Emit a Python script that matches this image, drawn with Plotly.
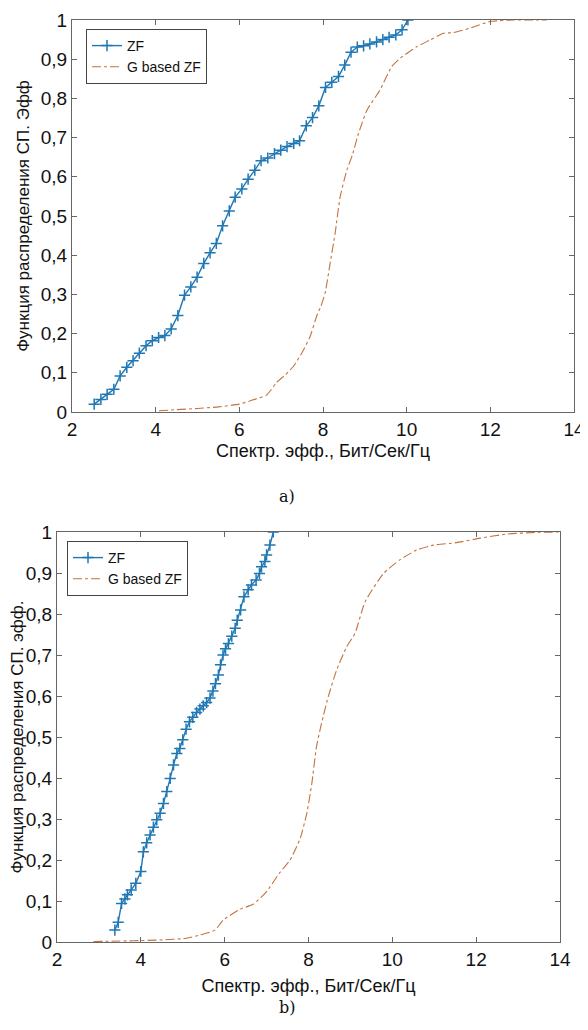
import plotly.graph_objects as go

# ---- panel a) ----
zf_a_x = [2.53, 2.69, 2.84, 3.00, 3.15, 3.31, 3.46, 3.61, 3.77, 3.92, 4.07, 4.22, 4.37, 4.53,
          4.69, 4.84, 4.99, 5.15, 5.30, 5.45, 5.60, 5.76, 5.90, 6.06, 6.21, 6.37, 6.52, 6.68,
          6.84, 6.99, 7.14, 7.30, 7.44, 7.60, 7.75, 7.90, 8.06, 8.21, 8.37, 8.52, 8.67, 8.82,
          8.97, 9.12, 9.28, 9.43, 9.58, 9.74, 9.89, 10.03]
zf_a_y = [0.020, 0.032, 0.045, 0.058, 0.092, 0.114, 0.131, 0.150, 0.169, 0.182, 0.190, 0.195,
          0.212, 0.246, 0.298, 0.319, 0.344, 0.379, 0.406, 0.430, 0.475, 0.513, 0.548, 0.569,
          0.594, 0.617, 0.641, 0.648, 0.659, 0.668, 0.677, 0.685, 0.692, 0.730, 0.751, 0.781,
          0.828, 0.841, 0.856, 0.885, 0.918, 0.931, 0.934, 0.939, 0.944, 0.950, 0.956, 0.962,
          0.975, 1.000]
g_a_x = [4.08, 4.5, 5.0, 5.5, 6.0, 6.33, 6.65, 6.89, 7.1, 7.29, 7.5, 7.69, 7.85, 7.95, 8.05,
         8.17, 8.29, 8.41, 8.57, 8.7, 8.85, 9.05, 9.36, 9.64, 9.84, 10.24, 10.56, 10.88, 11.12,
         11.51, 11.99, 12.55, 13.35]
g_a_y = [0.003, 0.006, 0.009, 0.013, 0.020, 0.031, 0.043, 0.075, 0.095, 0.116, 0.152, 0.192,
         0.245, 0.270, 0.303, 0.379, 0.456, 0.549, 0.617, 0.655, 0.711, 0.770, 0.821, 0.881,
         0.902, 0.932, 0.949, 0.966, 0.968, 0.979, 0.996, 1.0, 1.0]

# ---- panel b) ----
zf_b_x = [3.38, 3.46, 3.54, 3.62, 3.68, 3.77, 3.88, 4.00, 4.06, 4.14, 4.22, 4.30, 4.38, 4.46,
          4.54, 4.62, 4.70, 4.78, 4.86, 4.93, 5.00, 5.08, 5.16, 5.24, 5.33, 5.41, 5.49, 5.57,
          5.65, 5.72, 5.78, 5.85, 5.90, 5.96, 6.02, 6.09, 6.17, 6.25, 6.30, 6.38, 6.46, 6.56,
          6.64, 6.75, 6.83, 6.88, 6.96, 7.00, 7.08, 7.16]
zf_b_y = [0.029, 0.048, 0.094, 0.105, 0.115, 0.127, 0.143, 0.172, 0.220, 0.242, 0.261, 0.280,
          0.298, 0.314, 0.338, 0.367, 0.399, 0.432, 0.460, 0.472, 0.493, 0.519, 0.537, 0.548,
          0.560, 0.568, 0.576, 0.584, 0.595, 0.612, 0.630, 0.651, 0.676, 0.700, 0.715, 0.728,
          0.746, 0.765, 0.785, 0.810, 0.842, 0.859, 0.871, 0.883, 0.899, 0.915, 0.928, 0.944,
          0.968, 1.000]
g_b_x = [2.87, 3.3, 3.82, 4.46, 5.09, 5.41, 5.77, 5.97, 6.37, 6.68, 7.0, 7.32, 7.56, 7.80,
         7.96, 8.08, 8.19, 8.31, 8.47, 8.67, 8.91, 9.11, 9.35, 9.79, 10.18, 10.58, 10.98, 11.53,
         12.09, 12.73, 13.4, 14.0]
g_b_y = [0.001, 0.002, 0.003, 0.005, 0.009, 0.017, 0.029, 0.054, 0.080, 0.092, 0.123, 0.170,
         0.200, 0.252, 0.314, 0.387, 0.476, 0.533, 0.598, 0.663, 0.720, 0.753, 0.830, 0.899,
         0.932, 0.956, 0.968, 0.974, 0.985, 0.995, 0.999, 1.0]

x_ticks = [2, 4, 6, 8, 10, 12, 14]
y_ticks = [0, 0.1, 0.2, 0.3, 0.4, 0.5, 0.6, 0.7, 0.8, 0.9, 1]
y_ticktext = ["0", "0,1", "0,2", "0,3", "0,4", "0,5", "0,6", "0,7", "0,8", "0,9", "1"]
x_title = "Спектр. эфф., Бит/Сек/Гц"
y_title_a = "Функция распределения СП. Эфф"
y_title_b = "Функция распределения СП. эфф."

ZF_COLOR = "#1f77b4"
G_COLOR = "#c4733f"
FONT = "Liberation Sans, Arial, sans-serif"

fig = go.Figure()
for (zx, zy, gx, gy, xa, ya, lg) in [
    (zf_a_x, zf_a_y, g_a_x, g_a_y, "x", "y", "legend"),
    (zf_b_x, zf_b_y, g_b_x, g_b_y, "x2", "y2", "legend2"),
]:
    fig.add_trace(go.Scatter(
        x=zx, y=zy, mode="lines+markers", name="ZF", xaxis=xa, yaxis=ya, legend=lg,
        line=dict(color=ZF_COLOR, width=1.4),
        marker=dict(symbol="cross-thin", size=8, line=dict(color=ZF_COLOR, width=1.5)),
    ))
    fig.add_trace(go.Scatter(
        x=gx, y=gy, mode="lines", name="G based ZF", xaxis=xa, yaxis=ya, legend=lg,
        line=dict(color=G_COLOR, width=1.1, dash="dashdot", shape="spline", smoothing=0.5),
    ))

axis_common = dict(
    showline=True, linecolor="#666", linewidth=1, mirror="ticks", automargin=False,
    ticks="inside", ticklen=5, tickcolor="#666", showgrid=False, zeroline=False,
    tickfont=dict(family=FONT, size=19, color="#111"),
)

def xaxis(domain, anchor, standoff):
    return dict(axis_common, domain=domain, anchor=anchor, range=[2, 14],
                tickvals=x_ticks, ticktext=[str(v) for v in x_ticks],
                title=dict(text=x_title, font=dict(family=FONT, size=18, color="#111"),
                           standoff=standoff))

def yaxis(domain, anchor, title, standoff):
    return dict(axis_common, domain=domain, anchor=anchor, range=[0, 1],
                tickvals=y_ticks, ticktext=y_ticktext,
                title=dict(text=title, font=dict(family=FONT, size=17, color="#111"),
                           standoff=standoff))

# page body adds an 8 px margin, so the figure is 8 px smaller and all
# reference pixel positions are shifted by 8
OFF = 8
W, H = 588 - OFF, 1030 - OFF

def px(v):
    return (v - OFF) / W

def py(v):
    return 1 - (v - OFF) / H

leg_common = dict(xanchor="left", yanchor="top", bgcolor="white", bordercolor="#444",
                  borderwidth=1, font=dict(family=FONT, size=14, color="#111"),
                  tracegroupgap=0, itemwidth=30)
fig.update_layout(
    template="none",
    width=W, height=H, margin=dict(l=0, r=0, t=0, b=0, autoexpand=False),
    paper_bgcolor="white", plot_bgcolor="white", showlegend=True,
    xaxis=xaxis([px(72), px(574)], "y", 5),
    yaxis=yaxis([py(412), py(20)], "x", y_title_a, 6),
    xaxis2=xaxis([px(57), px(560)], "y2", 10),
    yaxis2=yaxis([py(942), py(532)], "x2", y_title_b, 6),
    legend=dict(leg_common, x=px(86), y=py(29)),
    legend2=dict(leg_common, x=px(67), y=py(541)),
    annotations=[
        dict(text="a)", x=px(287), y=py(497), xref="paper", yref="paper",
             showarrow=False, font=dict(family="DejaVu Serif, serif", size=16, color="#111")),
        dict(text="b)", x=px(287), y=py(1019), xref="paper", yref="paper",
             showarrow=False, font=dict(family="DejaVu Serif, serif", size=16, color="#111")),
    ],
)

fig.write_html("out.html")
